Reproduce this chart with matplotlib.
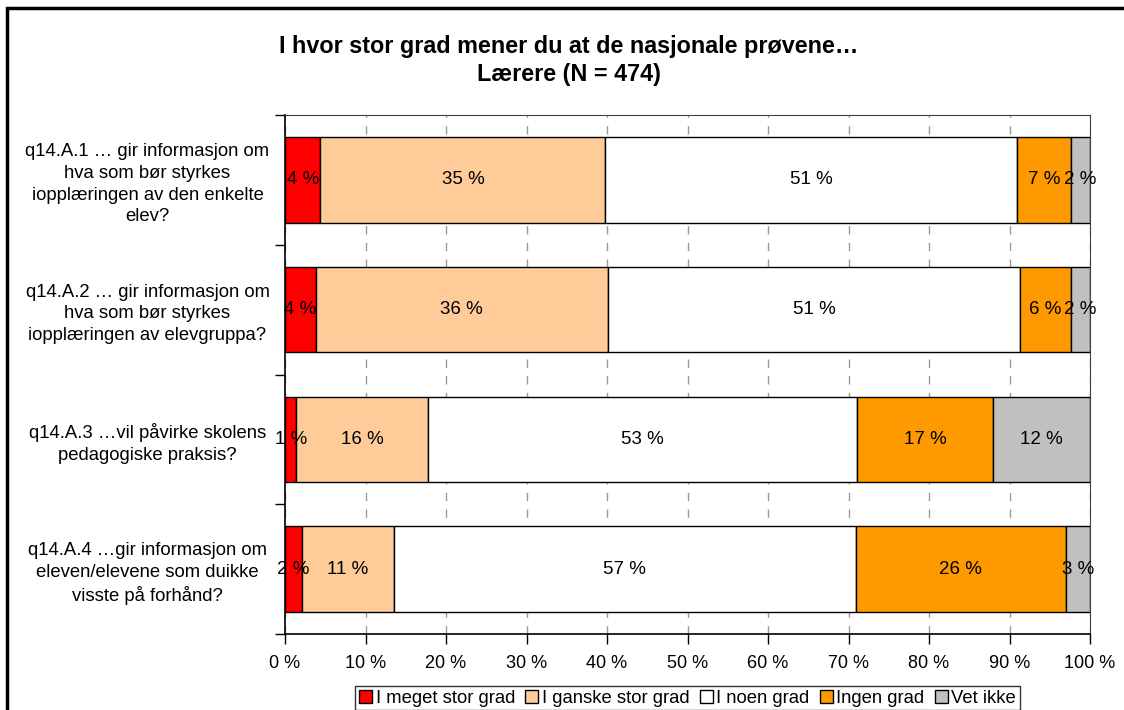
import matplotlib
matplotlib.use('Agg')
import matplotlib.pyplot as plt
from matplotlib.patches import Rectangle

plt.rcParams['font.family'] = ['Liberation Sans', 'DejaVu Sans']

# data (percent)
questions = [
    'q14.A.1 … gir informasjon om\nhva som bør styrkes\niopplæringen av den enkelte\nelev?',
    'q14.A.2 … gir informasjon om\nhva som bør styrkes\niopplæringen av elevgruppa?',
    'q14.A.3 …vil påvirke skolens\npedagogiske praksis?',
    'q14.A.4 …gir informasjon om\neleven/elevene som duikke\nvisste på forhånd?',
]
categories = ['I meget stor grad', 'I ganske stor grad', 'I noen grad', 'Ingen grad', 'Vet ikke']
meget_stor = [4.4, 3.8, 1.4, 2.1]
ganske_stor = [35.4, 36.3, 16.4, 11.4]
noen = [51.1, 51.2, 53.3, 57.4]
ingen = [6.7, 6.3, 16.9, 26.1]
vet_ikke = [2.4, 2.4, 12.0, 3.0]
colors = ['#ff0000', '#ffcc99', '#ffffff', '#ff9900', '#c0c0c0']
series = [meget_stor, ganske_stor, noen, ingen, vet_ikke]

fig = plt.figure(figsize=(11.24, 7.1), dpi=100)
ax = fig.add_axes([285 / 1124, 1 - 634 / 710, 805 / 1124, 519 / 710])

y = list(range(len(questions)))
left = [0.0] * len(questions)
for vals, col, name in zip(series, colors, categories):
    bars = ax.barh(y, vals, left=left, height=0.66, color=col,
                   edgecolor='black', linewidth=1, label=name, zorder=3)
    for b, v in zip(bars, vals):
        ax.text(b.get_x() + b.get_width() / 2, b.get_y() + b.get_height() / 2,
                f'{int(round(v))} %', ha='center', va='center', fontsize=13.5, zorder=4)
    left = [l + v for l, v in zip(left, vals)]

ax.set_xlim(0, 100)
ax.set_ylim(3.5, -0.5)
ax.set_xticks(range(0, 101, 10))
ax.set_xticklabels([f'{t} %' for t in range(0, 101, 10)], fontsize=13)
ax.set_yticks(y)
ax.set_yticklabels(questions, fontsize=13.3, ha='center', linespacing=1.36)
ax.set_yticks([-0.5, 0.5, 1.5, 2.5, 3.5], minor=True)
ax.tick_params(axis='y', which='major', length=0, pad=99)
ax.tick_params(axis='y', which='minor', length=7, width=1, direction='out')
ax.tick_params(axis='x', length=7, width=1, direction='out', pad=8)

ax.grid(axis='x', color='#999999', linestyle=(0, (6, 6)), linewidth=1, zorder=0)
for s in ['top', 'right']:
    ax.spines[s].set_color('#404040')
for s in ['left', 'bottom']:
    ax.spines[s].set_color('black')
    ax.spines[s].set_linewidth(1.2)

fig.text(0.5058, 1 - 46 / 710, 'I hvor stor grad mener du at de nasjonale prøvene…',
         ha='center', va='center', fontsize=16.8, fontweight='bold')
fig.text(0.5058, 1 - 75 / 710, 'Lærere (N = 474)',
         ha='center', va='center', fontsize=16.8, fontweight='bold')

ax.legend(loc='upper center', bbox_to_anchor=(0.5, (686 - 634) / -519.0), ncol=5,
          frameon=True, fancybox=False, edgecolor='black', fontsize=13.3,
          handlelength=0.7, handleheight=0.7, handletextpad=0.2,
          columnspacing=0.55, borderpad=0.2, borderaxespad=0)
leg = ax.get_legend()
leg.get_frame().set_linewidth(1)

# outer chart border (runs past the right and bottom edges)
fig.patches.append(Rectangle((7 / 1124, -0.1), 1.2, 1 - 8 / 710 + 0.1,
                             transform=fig.transFigure, fill=False,
                             edgecolor='black', linewidth=2.5, clip_on=False))

fig.savefig('out.png', dpi=100)
